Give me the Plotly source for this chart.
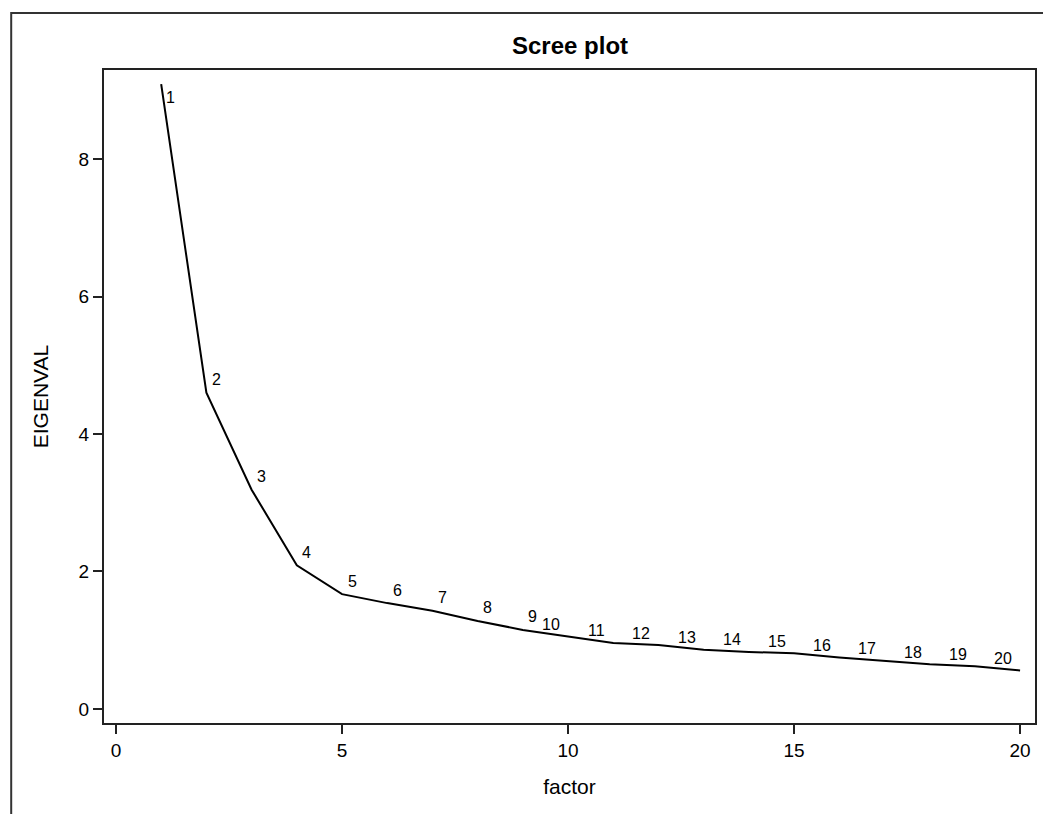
import plotly.graph_objects as go

factor = list(range(1, 21))
eigenval = [9.09, 4.60, 3.19, 2.09, 1.67, 1.54, 1.43, 1.28, 1.15, 1.05,
            0.96, 0.93, 0.86, 0.83, 0.81, 0.75, 0.70, 0.65, 0.62, 0.56]
x_ticks = [0, 5, 10, 15, 20]
y_ticks = [0, 2, 4, 6, 8]
title_text = "Scree plot"
x_title = "factor"
y_title = "EIGENVAL"

FONT = "Liberation Sans, Arial, sans-serif"

fig = go.Figure()
fig.add_trace(go.Scatter(
    x=factor, y=eigenval, mode="lines",
    line=dict(color="black", width=2),
    showlegend=False, hoverinfo="skip",
))

annotations = []
for i, (f, v) in enumerate(zip(factor, eigenval)):
    lab = str(f)
    if i == 0:
        xs, ys = 9, -13
    elif len(lab) == 1:
        xs, ys = 10, 13
    else:
        xs, ys = -17, 12
    annotations.append(dict(
        x=f, y=v, xref="x", yref="y", text=lab, showarrow=False,
        xshift=xs, yshift=ys, xanchor="center", yanchor="middle",
        font=dict(family=FONT, size=16, color="black"),
    ))

# title
annotations.append(dict(
    x=0.5, y=1.0, xref="paper", yref="paper", text="<b>%s</b>" % title_text,
    showarrow=False, xanchor="center", yanchor="bottom", yshift=9,
    font=dict(family=FONT, size=24, color="black"),
))

L, R, T, B = 104, 6, 70, 91
W, H = 1043, 814
pw = W - L - R
ph = H - T - B
x0 = (11 - L) / pw
y0 = 1 + (T - 13) / ph

fig.update_layout(
    width=W, height=H,
    margin=dict(l=L, r=R, t=T, b=B, pad=0),
    paper_bgcolor="white", plot_bgcolor="white",
    font=dict(family=FONT, size=19, color="black"),
    annotations=annotations,
    shapes=[dict(
        type="path", xref="paper", yref="paper",
        path="M %f %f L %f %f L %f %f" % (x0, -0.5, x0, y0, 1.5, y0),
        line=dict(color="#333333", width=2),
    )],
    xaxis=dict(
        range=[-0.265, 20.33], tickvals=x_ticks, ticktext=[str(t) for t in x_ticks],
        showgrid=False, zeroline=False, showline=True, mirror=True,
        linecolor="#222222", linewidth=2,
        ticks="outside", ticklen=9, tickwidth=2, tickcolor="#222222",
        tickfont=dict(family=FONT, size=19, color="black"),
        title=dict(text=x_title, standoff=20, font=dict(family=FONT, size=21, color="black")),
    ),
    yaxis=dict(
        range=[-0.204, 9.295], tickvals=y_ticks, ticktext=[str(t) for t in y_ticks],
        showgrid=False, zeroline=False, showline=True, mirror=True,
        linecolor="#222222", linewidth=2,
        ticks="outside", ticklen=9, tickwidth=2, tickcolor="#222222",
        tickfont=dict(family=FONT, size=19, color="black"),
        title=dict(text=y_title, standoff=24, font=dict(family=FONT, size=21, color="black")),
    ),
)

fig.write_html("out.html")
